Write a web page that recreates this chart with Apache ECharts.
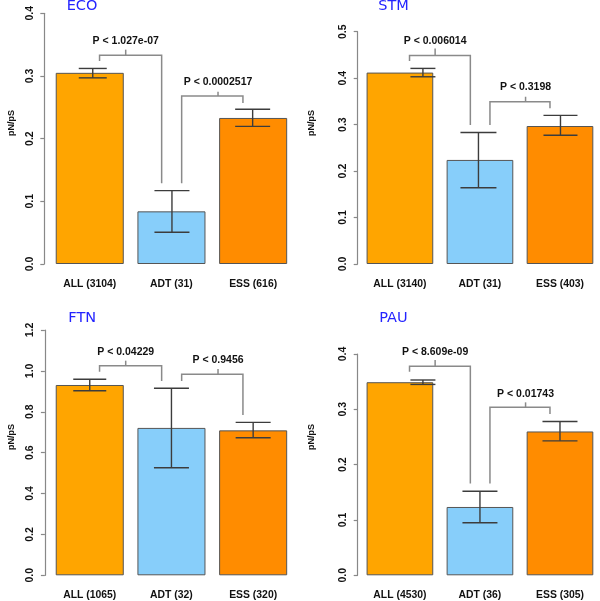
<!DOCTYPE html>
<html><head><meta charset="utf-8">
<script src="https://cdn.jsdelivr.net/npm/echarts@6/dist/echarts.min.js"></script>
<style>html,body{margin:0;padding:0;background:#fff}#c{width:600px;height:601px}</style>
</head><body><div id="c"></div>
<script>
// ---- data ----
const panelNames = ["ECO", "STM", "FTN", "PAU"];
const catECO = ["ALL (3104)", "ADT (31)", "ESS (616)"];
const catSTM = ["ALL (3140)", "ADT (31)", "ESS (403)"];
const catFTN = ["ALL (1065)", "ADT (32)", "ESS (320)"];
const catPAU = ["ALL (4530)", "ADT (36)", "ESS (305)"];
const valECO = [0.305, 0.084, 0.233];
const valSTM = [0.412, 0.224, 0.297];
const valFTN = [0.931, 0.721, 0.709];
const valPAU = [0.349, 0.1235, 0.260];
const hiECO = [0.312, 0.117, 0.247];
const loECO = [0.297, 0.0506, 0.2196];
const hiSTM = [0.421, 0.283, 0.320];
const loSTM = [0.403, 0.164, 0.277];
const hiFTN = [0.959, 0.915, 0.748];
const loFTN = [0.903, 0.526, 0.673];
const hiPAU = [0.353, 0.152, 0.278];
const loPAU = [0.345, 0.095, 0.243];
const pECO = ["P < 1.027e-07", "P < 0.0002517"];
const pSTM = ["P < 0.006014", "P < 0.3198"];
const pFTN = ["P < 0.04229", "P < 0.9456"];
const pPAU = ["P < 8.609e-09", "P < 0.01743"];
// bracket heights (data units): [left leg end, right leg end, bar, tick top, label]
const brECO = [[0.324, 0.129, 0.333, 0.342, 0.356], [0.129, 0.257, 0.268, 0.275, 0.291]];
const brSTM = [[0.437, 0.299, 0.449, 0.464, 0.480], [0.299, 0.335, 0.349, 0.360, 0.380]];
const brFTN = [[0.996, 0.950, 1.025, 1.050, 1.091], [0.950, 0.784, 0.983, 1.009, 1.053]];
const brPAU = [[0.368, 0.166, 0.378, 0.389, 0.403], [0.166, 0.2915, 0.3036, 0.3126, 0.3276]];
const yMax = [0.4, 0.5, 1.2, 0.4];
const yStep = [0.1, 0.1, 0.2, 0.1];
const yName = "pN/pS";

const cats = [catECO, catSTM, catFTN, catPAU];
const vals = [valECO, valSTM, valFTN, valPAU];
const his = [hiECO, hiSTM, hiFTN, hiPAU];
const los = [loECO, loSTM, loFTN, loPAU];
const pLabels = [pECO, pSTM, pFTN, pPAU];
const brs = [brECO, brSTM, brFTN, brPAU];

// ---- layout / style ----
const FONT = '"Liberation Sans", Arial, sans-serif';
const TFONT = '"DejaVu Sans", sans-serif';
const barColors = ["#FFA500", "#87CEFA", "#FF8C00"];
const layout = [
  {left: 48.9, top: 13.3, height: 250.7, axOff: 4.6, tx: 66.7, ty: 6.7, lx: 12, ly: 123},
  {left: 359.9, top: 31.7, height: 232.3, axOff: 2.2, tx: 378.3, ty: 6.7, lx: 312, ly: 123},
  {left: 48.9, top: 330, height: 245.3, axOff: 4.0, tx: 68.3, ty: 318.3, lx: 12, ly: 437},
  {left: 359.9, top: 354, height: 221.3, axOff: 2.2, tx: 379.3, ty: 318.3, lx: 312, ly: 437}
];
const GRID_W = 245.1;
// bracket x positions as fractions of category index
const brX = [[0.12, 0.88, 0.44], [1.125, 1.875, 1.57]];
// error bar cap half widths and x offsets (px)
const capHalf = [[14, 17.5, 17.5], [12.5, 18, 17], [16.5, 17.5, 17.5], [12.5, 17.5, 17.5]];
const capOff = [[3, 0.5, -0.5], [23, -1.5, 0.5], [0, 0, 0], [23, 0, 0]];

const grid = [], xAxis = [], yAxis = [], series = [], graphic = [];
for (let p = 0; p < 4; p++) {
  const L = layout[p];
  grid.push({left: L.left, top: L.top, width: GRID_W, height: L.height});
  xAxis.push({
    type: 'category', gridIndex: p, data: cats[p],
    axisLine: {show: false}, axisTick: {show: false},
    axisLabel: {color: '#111', fontFamily: FONT, fontWeight: 'bold', fontSize: 10.4, margin: 15}
  });
  yAxis.push({
    type: 'value', gridIndex: p, min: 0, max: yMax[p], interval: yStep[p],
    offset: L.axOff, splitLine: {show: false},
    axisLine: {show: true, lineStyle: {color: '#888', width: 1.2}},
    axisTick: {show: true, length: 4, lineStyle: {color: '#888', width: 1.2}},
    axisLabel: {color: '#111', fontFamily: FONT, fontWeight: 'bold', fontSize: 10.5, rotate: 90, margin: 9,
      formatter: v => v.toFixed(1)}
  });
  series.push({
    type: 'bar', xAxisIndex: p, yAxisIndex: p, barWidth: '83.3%',
    data: vals[p].map((v, i) => ({value: v, itemStyle: {color: barColors[i]}})),
    itemStyle: {borderColor: '#555', borderWidth: 1},
    silent: true, z: 2
  });
  // error bars
  series.push({
    type: 'custom', xAxisIndex: p, yAxisIndex: p, z: 5, silent: true,
    data: vals[p].map((v, i) => [i, his[p][i], los[p][i]]),
    renderItem: (params, api) => {
      const i = params.dataIndex;
      const top = api.coord([i, api.value(1)]);
      const bot = api.coord([i, api.value(2)]);
      const x = top[0] + capOff[p][i];
      const h = capHalf[p][i];
      const st = {stroke: '#3c3c3c', lineWidth: 1.4};
      return {type: 'group', children: [
        {type: 'line', shape: {x1: x, y1: top[1], x2: x, y2: bot[1]}, style: st},
        {type: 'line', shape: {x1: x - h, y1: top[1], x2: x + h, y2: top[1]}, style: st},
        {type: 'line', shape: {x1: x - h, y1: bot[1], x2: x + h, y2: bot[1]}, style: st}
      ]};
    }
  });
  // significance brackets
  series.push({
    type: 'custom', xAxisIndex: p, yAxisIndex: p, z: 4, silent: true,
    data: brs[p].map((b, k) => [k, b[2]]),
    renderItem: (params, api) => {
      const k = params.dataIndex;
      const b = brs[p][k];
      const c0 = api.coord([0, 0]), c1 = api.coord([1, 0]);
      const band = c1[0] - c0[0];
      const X = f => c0[0] + f * band;
      const Y = v => api.coord([0, v])[1];
      const [x1, x2, xm] = brX[k];
      const st = {stroke: '#8a8a8a', lineWidth: 1.5, fill: null};
      return {type: 'group', children: [
        {type: 'polyline', shape: {points: [[X(x1), Y(b[0])], [X(x1), Y(b[2])], [X(x2), Y(b[2])], [X(x2), Y(b[1])]]}, style: st},
        {type: 'line', shape: {x1: X(xm), y1: Y(b[2]), x2: X(xm), y2: Y(b[3])}, style: {stroke: '#8a8a8a', lineWidth: 1.5}},
        {type: 'text', x: X(xm), y: Y(b[4]), style: {text: pLabels[p][k], font: 'bold 10.5px ' + FONT, fill: '#111', align: 'center', verticalAlign: 'middle'}}
      ]};
    }
  });
  graphic.push({type: 'text', x: L.tx, y: L.ty, style: {text: panelNames[p], font: '14.5px ' + TFONT, fill: '#2424ff', align: 'left', verticalAlign: 'middle'}});
  graphic.push({type: 'text', x: L.lx, y: L.ly, rotation: Math.PI / 2, style: {text: yName, font: 'bold 9px ' + FONT, fill: '#111', align: 'center', verticalAlign: 'middle'}});
}

const chart = echarts.init(document.getElementById('c'), null, {renderer: 'canvas'});
chart.setOption({animation: false, backgroundColor: '#fff', grid, xAxis, yAxis, series, graphic});
</script>
</body></html>
